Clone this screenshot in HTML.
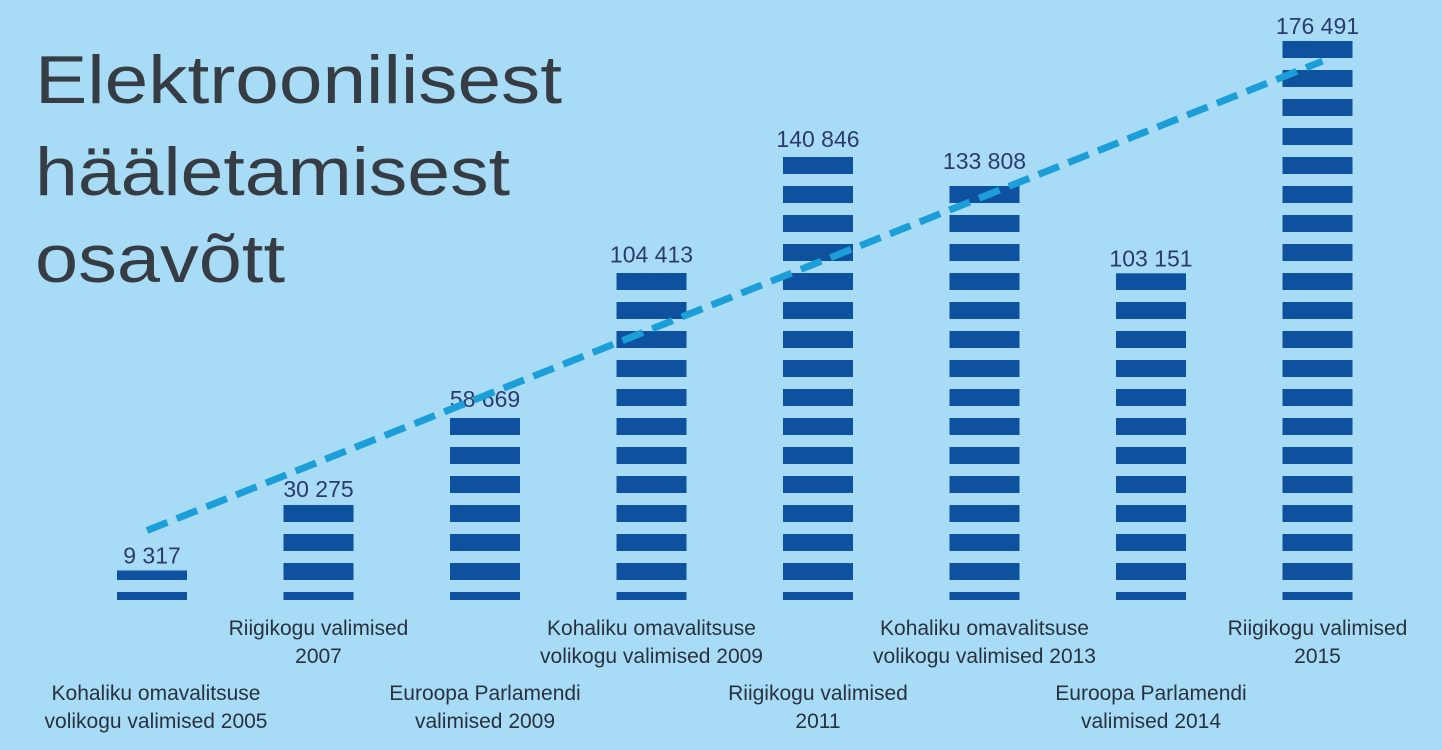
<!DOCTYPE html>
<html><head><meta charset="utf-8">
<style>
html,body{margin:0;padding:0;background:#a8dcf6;}
svg{display:block;}
</style></head>
<body>
<svg id="chart" width="1442" height="750" viewBox="0 0 1442 750" xmlns="http://www.w3.org/2000/svg">
<defs>
<pattern id="stripes" patternUnits="userSpaceOnUse" width="2000" height="29" y="41">
<rect x="0" y="0" width="2000" height="17" fill="#0e519f"/>
</pattern>
</defs>
<rect width="1442" height="750" fill="#a8dcf6"/>
<g font-family="'Liberation Sans', sans-serif" font-size="68" fill="#363c44">
<text x="35" y="103" textLength="527" lengthAdjust="spacingAndGlyphs">Elektroonilisest</text>
<text x="35" y="195" textLength="475" lengthAdjust="spacingAndGlyphs">hääletamisest</text>
<text x="35" y="282" textLength="250" lengthAdjust="spacingAndGlyphs">osavõtt</text>
</g>
<g id="bars"></g>
<g id="values"></g>
<g id="cats"></g>
<line id="trend" stroke="#1c9fd9" stroke-width="7" stroke-dasharray="22 10"/>
</svg>
<script>
const categories = [
 ["Kohaliku omavalitsuse","volikogu valimised 2005"],
 ["Riigikogu valimised","2007"],
 ["Euroopa Parlamendi","valimised 2009"],
 ["Kohaliku omavalitsuse","volikogu valimised 2009"],
 ["Riigikogu valimised","2011"],
 ["Kohaliku omavalitsuse","volikogu valimised 2013"],
 ["Euroopa Parlamendi","valimised 2014"],
 ["Riigikogu valimised","2015"]
];
const values = [9317, 30275, 58669, 104413, 140846, 133808, 103151, 176491];
const valueLabels = ["9 317","30 275","58 669","104 413","140 846","133 808","103 151","176 491"];
const trendStart = 9317;
const trendEnd = 176491 * 0.964;

const NS = "http://www.w3.org/2000/svg";
const baseY = 600, maxV = 176491, maxH = 559;
const x0 = 152, step = 166.5, bw = 70;
function xScale(i){ return x0 + i*step; }
function yScale(v){ return baseY - v/maxV*maxH; }
const bars = document.getElementById('bars');
const vals = document.getElementById('values');
const cats = document.getElementById('cats');
values.forEach((v,i)=>{
  const cx = xScale(i), top = yScale(v);
  const r = document.createElementNS(NS,'rect');
  
  
  r.setAttribute('x', cx-bw/2); r.setAttribute('y', top);
  r.setAttribute('width', bw); r.setAttribute('height', baseY-top);
  r.setAttribute('fill','url(#stripes)');
  bars.appendChild(r);
  const t = document.createElementNS(NS,'text');
  
  
  t.setAttribute('x', cx); t.setAttribute('y', top-7);
  t.setAttribute('text-anchor','middle');
  t.setAttribute('font-family',"'Liberation Sans', sans-serif");
  t.setAttribute('font-size','23'); t.setAttribute('fill','#2c3b6c');
  t.textContent = valueLabels[i];
  vals.appendChild(t);
  const upper = (i%2===1);
  const y1 = upper ? 635 : 700;
  categories[i].forEach((line,k)=>{
    const c = document.createElementNS(NS,'text');
    
    
    c.setAttribute('x', cx + (i===0?4:0)); c.setAttribute('y', y1 + k*28);
    c.setAttribute('text-anchor','middle');
    c.setAttribute('font-family',"'Liberation Sans', sans-serif");
    c.setAttribute('font-size','21'); c.setAttribute('fill','#28323f');
    c.textContent = line;
    cats.appendChild(c);
  });
});
const tr = document.getElementById('trend');
tr.setAttribute('x1', xScale(0)-5); tr.setAttribute('y1', yScale(trendStart)-40);
tr.setAttribute('x2', xScale(7)+5); tr.setAttribute('y2', yScale(trendEnd));
</script>
</body></html>
